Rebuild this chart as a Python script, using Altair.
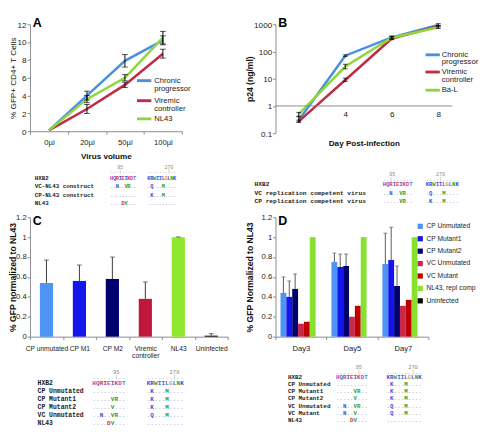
import altair as alt
import pandas as pd

FONT = "Liberation Sans"
MONO = "Liberation Mono"

# ---------------- Panel A ----------------
a_volumes = ["0µl", "20µl", "50µl", "100µl"]
a_series = ["Chronic progressor", "Viremic controller", "NL43"]
a_chronic = [0.1, 4.0, 7.9, 10.2]
a_chronic_err = [0.0, 0.5, 0.7, 0.5]
a_viremic = [0.1, 2.5, 5.2, 8.7]
a_viremic_err = [0.0, 0.5, 0.3, 0.5]
a_nl43 = [0.1, 3.6, 6.0, 10.5]
a_nl43_err = [0.0, 0.4, 0.35, 0.7]
a_colors = ["#4a8fe2", "#bf2d45", "#8fd63c"]

# ---------------- Panel B ----------------
b_days = [2, 4, 6, 8]
b_series = ["Chronic progressor", "Viremic controller", "Ba-L"]
b_chronic = [0.3, 70, 330, 950]
b_chronic_lo = [0.26, 65, 300, 880]
b_chronic_hi = [0.42, 75, 360, 1050]
b_viremic = [0.27, 9, 300, 850]
b_viremic_lo = [0.25, 8, 270, 800]
b_viremic_hi = [0.3, 10.5, 340, 900]
b_bal = [0.5, 28, 320, 780]
b_bal_lo = [0.4, 23, 280, 700]
b_bal_hi = [0.58, 34, 370, 860]
b_colors = ["#4a8fe2", "#bf2d45", "#8fd63c"]
b_baseline = [1]

# ---------------- Panel C ----------------
c_groups = ["CP unmutated", "CP M1", "CP M2", "Viremic controller", "NL43", "Uninfected"]
c_values = [0.54, 0.56, 0.58, 0.38, 1.0, 0.01]
c_err = [0.23, 0.16, 0.22, 0.17, 0.002, 0.02]
c_colors = ["#4d94f5", "#1414ec", "#00006e", "#c0183c", "#8ee62e", "#000000"]

# ---------------- Panel D ----------------
d_days = ["Day3", "Day5", "Day7"]
d_series = ["CP Unmutated", "CP Mutant1", "CP Mutant2", "VC Unmutated",
            "VC Mutant", "NL43, repl comp", "Uninfected"]
d_cp_unmut = [0.44, 0.75, 0.73]
d_cp_unmut_err = [0.16, 0.09, 0.31]
d_cp_mut1 = [0.40, 0.70, 0.77]
d_cp_mut1_err = [0.16, 0.13, 0.33]
d_cp_mut2 = [0.48, 0.71, 0.51]
d_cp_mut2_err = [0.15, 0.12, 0.20]
d_vc_unmut = [0.13, 0.20, 0.31]
d_vc_mut = [0.15, 0.31, 0.37]
d_nl43 = [1.0, 1.0, 1.0]
d_uninf = [0.0, 0.0, 0.0]
d_colors = ["#4d94f5", "#1414ec", "#00006e", "#c8284a", "#c00000", "#88e030", "#000000"]

# ---------------- Alignments ----------------
al_a_names = ["HXB2", "VC-NL43 construct", "CP-NL43 construct", "NL43"]
al_a_seg1 = ["HQRIEIKDT", "..N..VR..", ".........", "....DV..."]
al_a_seg2 = ["KRWIILGLNK", ".Q...M....", ".K...M....", ".........."]

al_b_names = ["HXB2", "VC replication competent virus", "CP replication competent virus"]
al_b_seg1 = ["HQRIEIKDT", "..N..VR..", ".....VR.."]
al_b_seg2 = ["KRWIILGLNK", ".Q...M....", ".K...M...."]

al_c_names = ["HXB2", "CP Unmutated", "CP Mutant1", "CP Mutant2", "VC Unmutated", "NL43"]
al_c_seg1 = ["HQRIEIKDT", ".........", ".....VR..", ".....V...", "..N..VR..", "....DV..."]
al_c_seg2 = ["KRWIILGLNK", ".K...M....", ".K...M....", ".K...M....", ".Q...M....", ".........."]

al_d_names = ["HXB2", "CP Unmutated", "CP Mutant1", "CP Mutant2", "VC Unmutated", "VC Mutant", "NL43"]
al_d_seg1 = ["HQRIEIKDT", ".........", ".....VR..", ".....V...", "..N..VR..", "..N..V...", "....DV..."]
al_d_seg2 = ["KRWIILGLNK", ".K...M....", ".K...M....", ".K...M....", ".Q...M....", ".Q...M....", ".........."]

ruler_labels = ["95", "270"]

# residue colour styles
HXB2_SEG1_COLORS = ["#b03cc8", "#6a5acd", "#e0303c", "#3c5ad8", "#e03c6e", "#3c5ad8", "#e0303c", "#c83cc8", "#4a88c8"]
HXB2_SEG2_COLORS = ["#3048e0", "#3048e0", "#28a028", "#3c5ad8", "#3c5ad8", "#3c5ad8", "#e8a028", "#3c5ad8", "#28a028", "#3048e0"]
MUT_COLORS = {"N": "#4050d8", "V": "#28a028", "R": "#28a028", "K": "#3048e0",
              "Q": "#4050d8", "M": "#28a028", "D": "#e03030"}
DOT_COLOR = "#a4a4d8"

EXT1 = 13
EXT2 = 21


def letter(t, y=-1):
    return alt.Chart(pd.DataFrame({"t": [t]})).mark_text(
        align="left", baseline="middle", fontSize=13, fontWeight="bold", font=FONT, color="black"
    ).encode(x=alt.value(3), y=alt.value(y), text="t:N")


def caps(df, field, xenc, yscale, yaxis, size, color, extra=None, orient=None):
    enc = dict(x=xenc, y=alt.Y(f"{field}:Q", scale=yscale, axis=yaxis))
    if extra:
        enc.update(extra)
    kw = dict(size=size, thickness=1, color=color)
    if orient:
        kw["orient"] = orient
    return alt.Chart(df).mark_tick(**kw).encode(**enc)


def line_legend(series, colors, sym_x, text_x, entry_y, line_gap):
    """Legend guide for line charts with labels wrapped onto two lines (pixel placement)."""
    sym = pd.DataFrame({"x1": [sym_x] * len(series), "x2": [sym_x + 15] * len(series),
                        "y": entry_y, "c": colors})
    txt_rows = []
    for s, y in zip(series, entry_y):
        for k, word in enumerate(s.split(" ")):
            txt_rows.append({"x": text_x, "y": y + k * line_gap, "t": word})
    txt = pd.DataFrame(txt_rows)
    s_layer = alt.Chart(sym).mark_rule(strokeWidth=3).encode(
        x=alt.X("x1:Q", scale=None), x2="x2:Q", y=alt.Y("y:Q", scale=None),
        color=alt.Color("c:N", scale=None))
    t_layer = alt.Chart(txt).mark_text(align="left", baseline="middle", fontSize=8, font=FONT,
                                       color="#222").encode(
        x=alt.X("x:Q", scale=None), y=alt.Y("y:Q", scale=None), text="t:N")
    return [s_layer, t_layer]


# ================= Panel A =================
rows = []
for s, vals, errs in zip(a_series, [a_chronic, a_viremic, a_nl43], [a_chronic_err, a_viremic_err, a_nl43_err]):
    for v, val, e in zip(a_volumes, vals, errs):
        rows.append({"vol": v, "series": s, "val": val, "lo": val - e, "hi": val + e, "err": e})
dfA = pd.DataFrame(rows)
dfAe = dfA[dfA.err > 0]

xA_scale = alt.Scale(type="band", domain=a_volumes, paddingInner=0, paddingOuter=0)
xA_axis = alt.Axis(title="Virus volume", labelAngle=0, tickBand="extent", labelPadding=5, titlePadding=6,
                   titleFontWeight="bold", titleFontSize=8.5, labelFontSize=8)
yA_scale = alt.Scale(domain=[0, 12], nice=False)
yA_axis = alt.Axis(title="% GFP+ CD4+ T Cells", values=list(range(0, 13, 2)), titleFontWeight="normal",
                   titleFontSize=8.5, minExtent=EXT1, maxExtent=EXT1, titlePadding=0.5, labelPadding=1,
                   labelFontSize=8.5)
xA = alt.X("vol:N", scale=xA_scale, axis=xA_axis)

A_lines = alt.Chart(dfA).mark_line(strokeWidth=2.6).encode(
    x=xA, y=alt.Y("val:Q", scale=yA_scale, axis=yA_axis),
    color=alt.Color("series:N", scale=alt.Scale(domain=a_series, range=a_colors), legend=None))
A_rules = alt.Chart(dfAe).mark_rule(color="black", strokeWidth=1).encode(
    x=xA, y=alt.Y("lo:Q", scale=yA_scale, axis=yA_axis), y2="hi:Q")
A = alt.layer(A_lines, A_rules,
              caps(dfAe, "lo", xA, yA_scale, yA_axis, 6, "black"),
              caps(dfAe, "hi", xA, yA_scale, yA_axis, 6, "black"),
              *line_legend(a_series, a_colors, 112, 130, [59, 80, 99], 8.5),
              letter("A")).properties(width=159, height=112)

# ================= Panel B =================
rows = []
for s, vals, los, his in zip(b_series, [b_chronic, b_viremic, b_bal], [b_chronic_lo, b_viremic_lo, b_bal_lo],
                             [b_chronic_hi, b_viremic_hi, b_bal_hi]):
    for d, val, lo, hi in zip(b_days, vals, los, his):
        rows.append({"day": d, "series": s, "val": val, "lo": lo, "hi": hi})
dfB = pd.DataFrame(rows)
HB = 114
xB_scale = alt.Scale(domain=[1, 8.6], nice=False, zero=False)
xB_axis = alt.Axis(title="Day Post-infection", values=[4, 6, 8], domain=False, tickSize=0,
                   labelPadding=-(HB / 4) + 4, minExtent=0, maxExtent=0, titlePadding=6,
                   titleFontWeight="bold", titleFontSize=8.5, labelFontSize=8.5, grid=False)
yB_scale = alt.Scale(type="log", domain=[0.1, 1000], nice=False)
yB_axis = alt.Axis(title="p24 (ng/ml)", values=[0.1, 1, 10, 100, 1000], format="~g", titleFontWeight="bold",
                   titleFontSize=9, minExtent=EXT2, maxExtent=EXT2, titlePadding=1, labelPadding=1,
                   labelFontSize=8.5)
xB = alt.X("day:Q", scale=xB_scale, axis=xB_axis)
B_base = alt.Chart(pd.DataFrame({"one": b_baseline})).mark_rule(color="#888", strokeWidth=1).encode(
    y=alt.Y("one:Q", scale=yB_scale, axis=yB_axis))
B_lines = alt.Chart(dfB).mark_line(strokeWidth=2.6).encode(
    x=xB, y=alt.Y("val:Q", scale=yB_scale, axis=yB_axis),
    color=alt.Color("series:N", scale=alt.Scale(domain=b_series, range=b_colors), legend=None))
B_rules = alt.Chart(dfB).mark_rule(color="black", strokeWidth=1).encode(
    x=xB, y=alt.Y("lo:Q", scale=yB_scale, axis=yB_axis), y2="hi:Q")
B = alt.layer(B_lines, B_base, B_rules,
              caps(dfB, "lo", xB, yB_scale, yB_axis, 5, "black", orient="horizontal"),
              caps(dfB, "hi", xB, yB_scale, yB_axis, 5, "black", orient="horizontal"),
              *line_legend(b_series, b_colors, 157, 174, [32, 50, 69], 8),
              letter("B")).properties(width=185, height=HB)

# ================= Panel C =================
dfC = pd.DataFrame({"cat": c_groups, "val": c_values, "hi": [v + e for v, e in zip(c_values, c_err)]})
xC_scale = alt.Scale(type="band", domain=c_groups, paddingInner=0, paddingOuter=0)
xC_axis = alt.Axis(title=None, labelAngle=0, tickBand="extent", labelPadding=5, labelFontSize=7,
                   labelLineHeight=7.5,
                   labelExpr="datum.label == 'Viremic controller' ? ['Viremic', 'controller'] : datum.label")
yC_scale = alt.Scale(domain=[0, 1.2], nice=False)
yvals = [0, 0.2, 0.4, 0.6, 0.8, 1.0, 1.2]
yC_axis = alt.Axis(title="% GFP normalized to NL43", values=yvals, format="~g", titleFontWeight="bold",
                   titleFontSize=9, minExtent=EXT1, maxExtent=EXT1, titlePadding=0.5, labelPadding=1,
                   labelFontSize=8)
xC = alt.X("cat:N", scale=xC_scale, axis=xC_axis)
C_bars = alt.Chart(dfC).mark_bar(width={"band": 0.4}).encode(
    x=xC, y=alt.Y("val:Q", scale=yC_scale, axis=yC_axis),
    color=alt.Color("cat:N", scale=alt.Scale(domain=c_groups, range=c_colors), legend=None))
C_rules = alt.Chart(dfC).mark_rule(color="#333", strokeWidth=1).encode(
    x=xC, y=alt.Y("val:Q", scale=yC_scale, axis=yC_axis), y2="hi:Q")
C = alt.layer(C_bars, C_rules, caps(dfC, "hi", xC, yC_scale, yC_axis, 5, "#333"),
              letter("C", 4)).properties(width=207, height=125)

# ================= Panel D =================
rows = []
d_vals = [d_cp_unmut, d_cp_mut1, d_cp_mut2, d_vc_unmut, d_vc_mut, d_nl43, d_uninf]
d_errs = [d_cp_unmut_err, d_cp_mut1_err, d_cp_mut2_err, None, None, None, None]
for s, vals, errs in zip(d_series, d_vals, d_errs):
    for k, (d, v) in enumerate(zip(d_days, vals)):
        e = errs[k] if errs else 0.0
        rows.append({"day": d, "series": s, "val": v, "hi": v + e, "err": e})
dfD = pd.DataFrame(rows)
dfDe = dfD[dfD.err > 0]
xD_scale = alt.Scale(type="band", domain=d_days, paddingInner=0, paddingOuter=0)
xD_axis = alt.Axis(title=None, labelAngle=0, tickBand="extent", labelPadding=6, labelFontSize=8)
yD_axis = alt.Axis(title="% GFP Normalized to NL43", values=yvals, format="~g", titleFontWeight="bold",
                   titleFontSize=9, minExtent=EXT2, maxExtent=EXT2, titlePadding=1, labelPadding=1,
                   labelFontSize=8)
xD = alt.X("day:N", scale=xD_scale, axis=xD_axis)
xoffD = alt.XOffset("series:N", scale=alt.Scale(domain=d_series, paddingInner=0, paddingOuter=0.85))
legD = alt.Legend(title=None, orient="none", legendX=148, legendY=6, symbolType="square", symbolSize=30,
                  symbolStrokeWidth=0, labelFontSize=7, rowPadding=5, padding=0, labelOffset=3)
D_bars = alt.Chart(dfD).mark_bar().encode(
    x=xD, xOffset=xoffD, y=alt.Y("val:Q", scale=yC_scale, axis=yD_axis),
    color=alt.Color("series:N", scale=alt.Scale(domain=d_series, range=d_colors), legend=legD))
D_rules = alt.Chart(dfDe).mark_rule(color="#555", strokeWidth=1).encode(
    x=xD, xOffset=xoffD, y=alt.Y("val:Q", scale=yC_scale, axis=yD_axis), y2="hi:Q")
D = alt.layer(D_bars, D_rules,
              caps(dfDe, "hi", xD, yC_scale, yD_axis, 4, "#555", extra={"xOffset": xoffD}),
              letter("D", 4)).properties(width=160, height=125)


# ================= Alignment blocks =================
def align_chart(names, seg1, seg2, L):
    st = L["step"]
    xn, x1, x2 = L["name_px"] / st, L["seq1_px"] / st, L["seq2_px"] / st
    ys_rows = L["rows_px"]
    name_df = pd.DataFrame({"x": [xn] * len(names), "y": ys_rows[:len(names)], "t": names})
    chars = []
    for i, (s1, s2) in enumerate(zip(seg1, seg2)):
        for base, seq, refc in ((x1, s1, HXB2_SEG1_COLORS), (x2, s2, HXB2_SEG2_COLORS)):
            for j, ch in enumerate(seq):
                if i == 0:
                    col = refc[j]
                elif ch == ".":
                    col = DOT_COLOR
                else:
                    col = MUT_COLORS.get(ch, "#333")
                chars.append({"x": base + j, "y": ys_rows[i], "t": ch, "c": col})
    char_df = pd.DataFrame(chars)
    rul = []
    for base, seq, idx in ((x1, seg1[0], L["num1"]), (x2, seg2[0], L["num2"])):
        for j in range(len(seq)):
            rul.append({"x": base + j, "y": L["ruler_px"], "t": "|" if j == round(idx) else "."})
    rul_df = pd.DataFrame(rul)
    num_df = pd.DataFrame({"x": [x1 + L["num1"], x2 + L["num2"]], "y": [L["num_px"]] * 2,
                           "t": ruler_labels})
    xs = alt.Scale(domain=[0, L["w"] / st], nice=False, zero=False)
    ys = alt.Scale(domain=[0, L["h"]], nice=False, zero=False, reverse=True)
    X = alt.X("x:Q", scale=xs, axis=None)
    Y = alt.Y("y:Q", scale=ys, axis=None)
    t_names = alt.Chart(name_df).mark_text(align="left", baseline="middle", font=MONO, fontWeight="bold",
                                           fontSize=L["name_font"], color="#1a1a1a").encode(x=X, y=Y, text="t:N")
    t_chars = alt.Chart(char_df).mark_text(align="center", baseline="middle", font=MONO, fontWeight="bold",
                                           fontSize=L["seq_font"]).encode(
        x=X, y=Y, text="t:N", color=alt.Color("c:N", scale=None))
    t_rul = alt.Chart(rul_df).mark_text(align="center", baseline="middle", font=MONO,
                                        fontSize=L["seq_font"] - 0.5, color="#999").encode(x=X, y=Y, text="t:N")
    t_num = alt.Chart(num_df).mark_text(align="center", baseline="middle", font=MONO,
                                        fontSize=L["seq_font"] - 0.5, color="#888").encode(x=X, y=Y, text="t:N")
    return alt.layer(t_rul, t_num, t_names, t_chars).properties(width=L["w"], height=L["h"])


# layout of the alignment text blocks (pixels inside each block)
LA = dict(w=190, h=54.5, step=3.0, name_px=5, seq1_px=85.5, seq2_px=124.5,
          rows_px=[18, 26.8, 35.6, 44.4], ruler_px=11, num_px=6, num1=3, num2=7, name_font=6.1, seq_font=5.6)
LB = dict(w=197, h=54.5, step=3.45, name_px=-22, seq1_px=114, seq2_px=159,
          rows_px=[24, 33.5, 42.5], ruler_px=19, num_px=14, num1=2.4, num2=4, name_font=6.5, seq_font=5.8)
LC = dict(w=200, h=72, step=3.9, name_px=8, seq1_px=67, seq2_px=124,
          rows_px=[26, 34.2, 42.4, 50.6, 58.8, 67], ruler_px=19, num_px=14, num1=6, num2=7,
          name_font=6.7, seq_font=6.3)
LD = dict(w=160, h=70, step=3.7, name_px=13, seq1_px=65, seq2_px=118,
          rows_px=[19, 26.6, 34.2, 41.8, 49.4, 57, 64.6], ruler_px=14, num_px=9, num1=6, num2=7,
          name_font=6.2, seq_font=6.0)

alA = align_chart(al_a_names, al_a_seg1, al_a_seg2, LA)
alB = align_chart(al_b_names, al_b_seg1, al_b_seg2, LB)
alC = align_chart(al_c_names, al_c_seg1, al_c_seg2, LC)
alD = align_chart(al_d_names, al_d_seg1, al_d_seg2, LD)

chart = alt.concat(A, B, alA, alB, C, D, alC, alD, columns=2,
                   spacing={"row": 0, "column": 18}).resolve_scale(
    color="independent", x="independent", y="independent").resolve_legend(
    color="independent").properties(padding=0, background="white").configure(
    font=FONT).configure_view(stroke=None).configure_axis(
    labelFont=FONT, titleFont=FONT, labelColor="#222", titleColor="#111", domainColor="#888",
    tickColor="#888", grid=False, tickSize=3).configure_legend(labelFont=FONT, labelColor="#222")

chart.save("out.html", embed_options={"renderer": "svg", "actions": False})
